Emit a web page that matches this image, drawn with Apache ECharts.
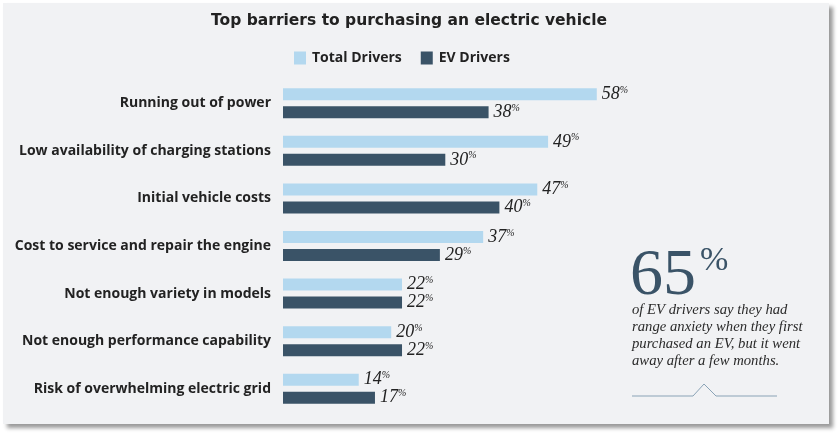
<!DOCTYPE html>
<html>
<head>
<meta charset="utf-8">
<script src="https://cdn.jsdelivr.net/npm/echarts@6/dist/echarts.min.js"></script>
<style>
html,body{margin:0;padding:0;background:#ffffff;}
#chart{width:839px;height:434px;}
</style>
</head>
<body>
<div id="chart"></div>
<script>
const title = 'Top barriers to purchasing an electric vehicle';
const categories = [
  'Running out of power',
  'Low availability of charging stations',
  'Initial vehicle costs',
  'Cost to service and repair the engine',
  'Not enough variety in models',
  'Not enough performance capability',
  'Risk of overwhelming electric grid'
];
const seriesNames = ['Total Drivers', 'EV Drivers'];
const totalDrivers = [58, 49, 47, 37, 22, 20, 14];
const evDrivers = [38, 30, 40, 29, 22, 22, 17];
const calloutValue = '65';
const calloutLines = [
  'of EV drivers say they had',
  'range anxiety when they first',
  'purchased an EV, but it went',
  'away after a few months.'
];

const chart = echarts.init(document.getElementById('chart'), null, {renderer: 'canvas'});

const valueLabel = {
  show: true,
  position: 'right',
  distance: 5,
  formatter: '{v|{c}}{p|%}',
  rich: {
    v: {fontFamily: 'Liberation Serif', fontStyle: 'italic', fontSize: 18, color: '#222222', lineHeight: 18},
    p: {fontFamily: 'Liberation Serif', fontStyle: 'italic', fontSize: 10, color: '#222222', verticalAlign: 'top', lineHeight: 18, padding: [0, 0, 6, 0]}
  }
};

chart.setOption({
  backgroundColor: '#ffffff',
  animation: false,
  title: {
    text: title,
    left: 404,
    textAlign: 'center',
    top: 8,
    textStyle: {fontFamily: 'DejaVu Sans', fontWeight: 'bold', fontSize: 15.5, color: '#222222'}
  },
  legend: {
    data: seriesNames,
    top: 51,
    left: 294,
    padding: 0,
    itemWidth: 12,
    itemHeight: 13,
    itemGap: 19,
    icon: 'rect',
    textStyle: {fontFamily: 'Open Sans', fontWeight: 'bold', fontSize: 14, color: '#222222', padding: [0, 0, 0, 1]}
  },
  grid: {left: 283, top: 79.5, width: 541, height: 333, containLabel: false},
  xAxis: {
    type: 'value', min: 0, max: 100,
    show: false
  },
  yAxis: {
    type: 'category',
    data: categories,
    inverse: true,
    axisLine: {show: false},
    axisTick: {show: false},
    splitLine: {show: false},
    axisLabel: {margin: 12, fontFamily: 'Open Sans', fontWeight: 'bold', fontSize: 14, color: '#222222', padding: [3, 0, 0, 0]}
  },
  series: [
    {
      name: seriesNames[0], type: 'bar', data: totalDrivers,
      barWidth: 12, barGap: '50%',
      itemStyle: {color: '#b3d8ef'},
      label: valueLabel, z: 3
    },
    {
      name: seriesNames[1], type: 'bar', data: evDrivers,
      barWidth: 12, barGap: '50%',
      itemStyle: {color: '#3a5367'},
      label: valueLabel, z: 3
    }
  ],
  graphic: [
    {
      type: 'rect', z: -10, silent: true,
      shape: {x: 3, y: 3, width: 826, height: 421},
      style: {fill: '#f1f2f4', shadowBlur: 4, shadowOffsetX: 4, shadowOffsetY: 4, shadowColor: 'rgba(0,0,0,0.4)'}
    },
    {
      type: 'text', z: 5, silent: true,
      style: {text: calloutValue, x: 630, y: 277, verticalAlign: 'middle', font: '66px "Liberation Serif"', fill: '#3a5367'}
    },
    {
      type: 'text', z: 5, silent: true,
      style: {text: '%', x: 700, y: 261, verticalAlign: 'middle', font: '34px "Liberation Serif"', fill: '#3a5367'}
    },
    {
      type: 'text', z: 5, silent: true,
      style: {text: calloutLines.join('\n'), x: 632, y: 302, verticalAlign: 'top', lineHeight: 16.8, font: 'italic 14.7px "Liberation Serif"', fill: '#2a2a2a'}
    },
    {
      type: 'polyline', z: 5, silent: true,
      shape: {points: [[632, 396], [693, 396], [704, 384], [716, 396], [777, 396]]},
      style: {stroke: '#8aa3b6', lineWidth: 1, fill: null}
    }
  ]
});
</script>
</body>
</html>
